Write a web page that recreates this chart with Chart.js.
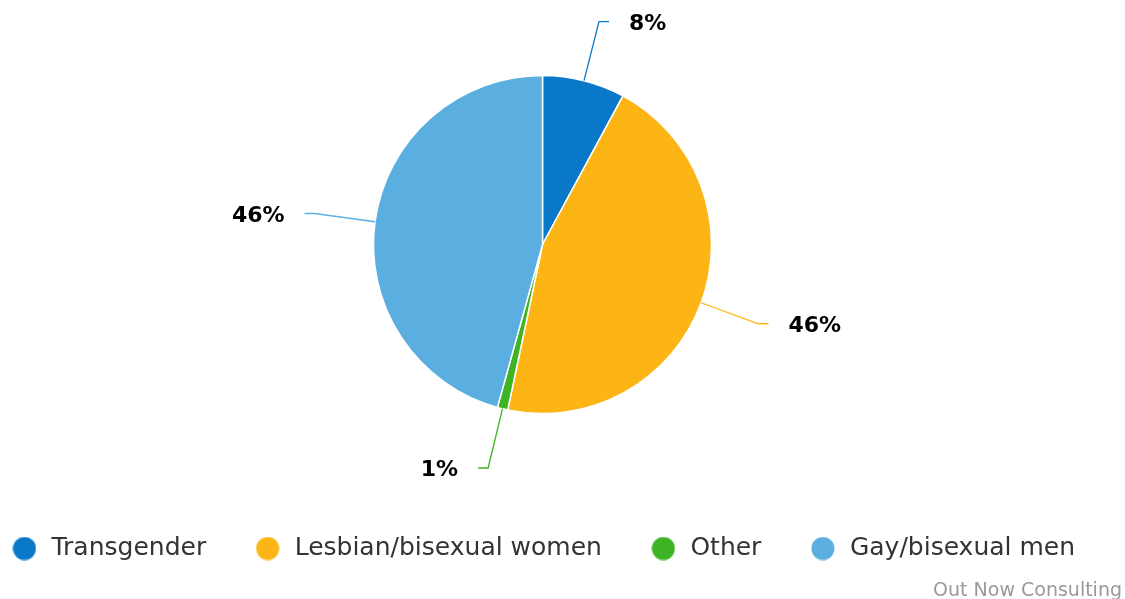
<!DOCTYPE html>
<html>
<head>
<meta charset="utf-8">
<script src="https://cdn.jsdelivr.net/npm/chart.js@4"></script>
<style>
  html, body { margin: 0; padding: 0; background: #fff; }
  #wrap { width: 1125px; height: 599px; position: relative; }
</style>
</head>
<body>
<div id="wrap"><canvas id="pieChart"></canvas></div>
<script>
// Datos
const categories = ['Transgender', 'Lesbian/bisexual women', 'Other', 'Gay/bisexual men'];
const shares = [7.9, 45.4, 1.0, 45.7];
const percentLabels = ['8%', '46%', '1%', '46%'];
const sliceColors = ['#0a78c8', '#fdb515', '#3cb424', '#5aaee0'];
const creditText = 'Out Now Consulting';

const FONT = '"DejaVu Sans", sans-serif';

// Circulo de la leyenda como imagen
function legendDot(color) {
    const c = document.createElement('canvas');
    c.width = 24; c.height = 24;
    const g = c.getContext('2d');
    g.fillStyle = color;
    g.beginPath();
    g.arc(12, 12, 11.5, 0, Math.PI * 2);
    g.fill();
    return c;
}
const dots = sliceColors.map(legendDot);

// Centrar el pastel sobre la leyenda
const centerOnLegend = {
    id: 'centerOnLegend',
    afterLayout(chart) {
        const a = chart.chartArea, lg = chart.legend;
        const shift = (lg.left + lg.right) / 2 - (a.left + a.right) / 2;
        a.left += shift;
        a.right += shift;
    }
};

// Etiquetas con lineas guia
const leaderLabels = {
    id: 'leaderLabels',
    afterDatasetsDraw(chart) {
        const ctx = chart.ctx;
        const meta = chart.getDatasetMeta(0);
        ctx.save();
        meta.data.forEach((arc, i) => {
            const p = arc.getProps(['x', 'y', 'startAngle', 'endAngle', 'outerRadius'], true);
            const mid = (p.startAngle + p.endAngle) / 2;
            const dx = Math.cos(mid), dy = Math.sin(mid);
            const r = p.outerRadius;
            const ex = p.x + dx * r, ey = p.y + dy * r;
            const bx = p.x + dx * (r + 61), by = p.y + dy * (r + 61);
            const side = dx >= 0 ? 1 : -1;
            const hx = bx + side * 10;
            ctx.strokeStyle = sliceColors[i];
            ctx.lineWidth = 1.3;
            ctx.beginPath();
            ctx.moveTo(ex, ey);
            ctx.lineTo(bx, by);
            ctx.lineTo(hx, by);
            ctx.stroke();
            ctx.fillStyle = '#000';
            ctx.font = 'bold 22px ' + FONT;
            ctx.textBaseline = 'middle';
            ctx.textAlign = side > 0 ? 'left' : 'right';
            ctx.fillText(percentLabels[i], hx + side * 20, by + 2.5);
        });
        // credito
        ctx.fillStyle = '#999';
        ctx.font = '19px ' + FONT;
        ctx.textAlign = 'right';
        ctx.textBaseline = 'alphabetic';
        ctx.fillText(creditText, 1122, 596);
        ctx.restore();
    }
};

const chart = new Chart(document.getElementById('pieChart'), {
    type: 'pie',
    data: {
        labels: categories,
        datasets: [{
            data: shares,
            backgroundColor: sliceColors,
            borderColor: '#fff',
            borderWidth: 1.5,
            radius: 169
        }]
    },
    options: {
        responsive: true,
        maintainAspectRatio: false,
        animation: false,
        // relleno negativo para que la leyenda quepa en una fila
        layout: { padding: { top: 0, left: -64, right: -24, bottom: 28 } },
        plugins: {
            tooltip: { enabled: false },
            legend: {
                position: 'bottom',
                labels: {
                    usePointStyle: true,
                    pointStyleWidth: 29,
                    boxHeight: 16,
                    padding: 47,
                    color: '#333',
                    font: { family: FONT, size: 25 },
                    generateLabels(c) {
                        const items = Chart.overrides.pie.plugins.legend.labels.generateLabels(c);
                        items.forEach((it, i) => { it.pointStyle = dots[i]; });
                        return items;
                    }
                }
            }
        }
    },
    plugins: [centerOnLegend, leaderLabels]
});
</script>
</body>
</html>
